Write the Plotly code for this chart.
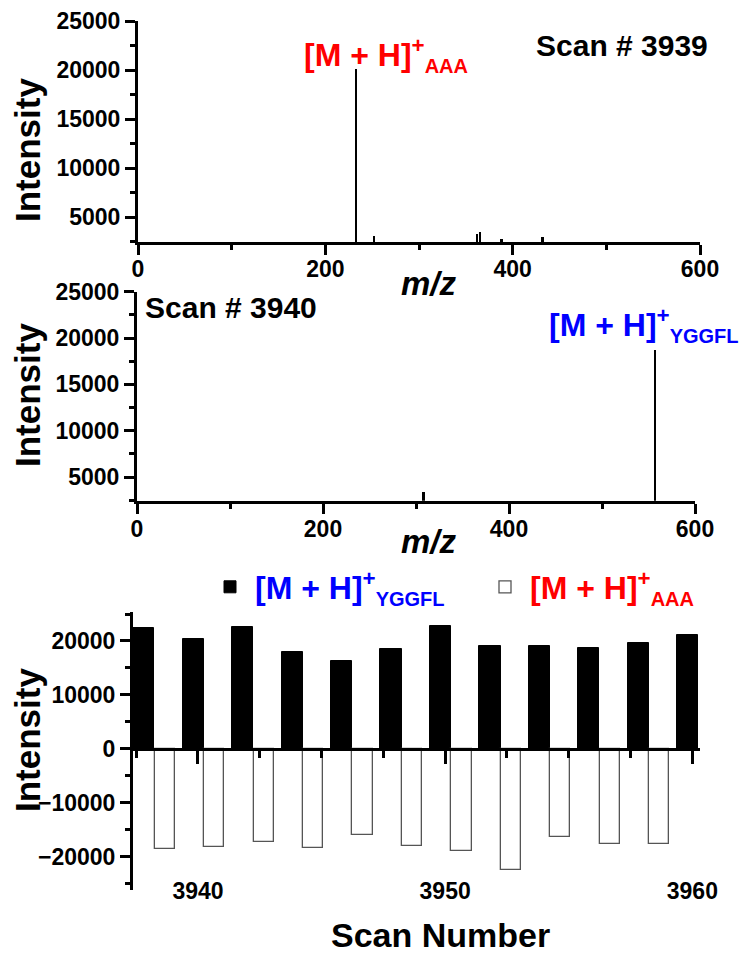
import plotly.graph_objects as go

# The page body keeps its default 8 px margin, so the figure is drawn 8 px right and down;
# positions below are given in page pixels and shifted back by that offset.
W, H, BODY = 749, 961, 8

# ---------------- data ----------------
# scan 3939 mass spectrum (m/z, intensity)
mz_3939 = [233, 252, 362, 365, 388, 432]
int_3939 = [20100, 3050, 3250, 3450, 2750, 2950]
# scan 3940 mass spectrum
mz_3940 = [308, 557]
int_3940 = [3450, 18700]

# extracted ion intensities vs scan number
scan_yggfl = [3938, 3940, 3942, 3944, 3946, 3948, 3950, 3952, 3954, 3956, 3958, 3960]
int_yggfl = [22360, 20310, 22550, 17890, 16270, 18450, 22800, 19130, 19070, 18630, 19570, 21180]
scan_aaa = [3939, 3941, 3943, 3945, 3947, 3949, 3951, 3953, 3955, 3957, 3959]
int_aaa = [-18510, -18140, -17340, -18330, -16040, -18080, -19010, -22480, -16350, -17590, -17710]

SUB = "<sub><span style='font-size:20px'>{}</span></sub>"
label_yggfl = "[M + H]<sup>+</sup>" + SUB.format("YGGFL")
label_aaa = "[M + H]<sup>+</sup>" + SUB.format("AAA")
scan_a_text = "Scan # 3939"
scan_b_text = "Scan # 3940"

# ---------------- helpers (page pixels -> paper fractions) ----------------
def fx(p):
    return (p - BODY) / W

def fy(p):
    return 1 - (p - BODY) / H

SANS = "Liberation Sans, Arial, sans-serif"
BLUE = "#0000ff"
RED = "#ff0000"

tickfont = dict(family=SANS, size=23, color="black", weight="bold")

def axis_common(**kw):
    d = dict(showline=True, linewidth=3, linecolor="black", ticks="outside",
             ticklen=10, tickwidth=3, tickcolor="black", showgrid=False,
             zeroline=False, tickfont=tickfont, fixedrange=True, automargin=False,
             tickformat="d")
    d.update(kw)
    return d

fig = go.Figure()

fig.add_trace(go.Bar(x=mz_3939, y=int_3939, width=2.6, marker=dict(color="black", line=dict(width=0)),
                     xaxis="x", yaxis="y", showlegend=False))
fig.add_trace(go.Bar(x=mz_3940, y=int_3940, width=2.6, marker=dict(color="black", line=dict(width=0)),
                     xaxis="x2", yaxis="y2", showlegend=False))

fig.add_trace(go.Bar(x=scan_yggfl, y=int_yggfl, width=0.86, offset=-0.62,
                     marker=dict(color="black", line=dict(color="black", width=1)),
                     name=f"<span style='color:{BLUE}'>{label_yggfl}</span>",
                     xaxis="x3", yaxis="y3"))
fig.add_trace(go.Bar(x=scan_aaa, y=int_aaa, width=0.82, offset=-0.75,
                     marker=dict(color="white", line=dict(color="#555555", width=1.3)),
                     name=f"<span style='color:{RED}'>{label_aaa}</span>",
                     xaxis="x4", yaxis="y3"))

scan_range = [3937.29, 3960.31]

fig.update_layout(
    template="none",
    width=W, height=H, autosize=False,
    margin=dict(l=0, r=0, t=0, b=0, pad=0),
    paper_bgcolor="white", plot_bgcolor="rgba(0,0,0,0)",
    barmode="overlay", bargap=0,
    font=dict(family=SANS, color="black"),
    xaxis=axis_common(domain=[fx(138), fx(700)], range=[0, 600], anchor="y",
                      tick0=0, dtick=200, ticklabelstandoff=-6,
                      minor=dict(ticks="outside", ticklen=5, tickwidth=3, tickcolor="black", dtick=100)),
    yaxis=axis_common(domain=[fy(242), fy(21)], range=[2450, 25000], anchor="x",
                      tick0=0, dtick=5000,
                      minor=dict(ticks="outside", ticklen=5, tickwidth=3, tickcolor="black", dtick=2500)),
    xaxis2=axis_common(domain=[fx(137), fx(695)], range=[0, 600], anchor="y2",
                       tick0=0, dtick=200, ticklabelstandoff=-4,
                       minor=dict(ticks="outside", ticklen=5, tickwidth=3, tickcolor="black", dtick=100)),
    yaxis2=axis_common(domain=[fy(500.7), fy(291.7)], range=[2450, 25000], anchor="x2",
                       tick0=0, dtick=5000,
                       minor=dict(ticks="outside", ticklen=5, tickwidth=3, tickcolor="black", dtick=2500)),
    # label-only scan axis at the bottom
    xaxis3=dict(domain=[fx(131), fx(700)], range=scan_range, anchor="free", position=fy(875),
                showline=False, ticks="", showgrid=False, zeroline=False, automargin=False,
                tick0=3940, dtick=10, tickfont=tickfont, fixedrange=True, tickformat="d"),
    # scan axis line drawn along intensity = 0
    xaxis4=dict(overlaying="x3", range=scan_range, anchor="free", position=fy(749),
                showline=True, linewidth=3, linecolor="black", ticks="outside", ticklen=13,
                tickwidth=3, tickcolor="black", tick0=3940, dtick=10, showticklabels=False,
                showgrid=False, zeroline=False, fixedrange=True, automargin=False,
                minor=dict(ticks="outside", ticklen=7, tickwidth=3, tickcolor="black", dtick=2.5)),
    yaxis3=axis_common(domain=[fy(890), fy(612)], range=[-26150, 25370], anchor="free",
                       position=fx(131), tick0=0, dtick=10000,
                       minor=dict(ticks="outside", ticklen=5, tickwidth=3, tickcolor="black", dtick=5000)),
    legend=dict(orientation="h", x=fx(205), y=fy(587), xanchor="left", yanchor="middle",
                font=dict(family=SANS, size=32, weight="bold"),
                bgcolor="rgba(0,0,0,0)", itemwidth=40, traceorder="normal",
                entrywidth=220, entrywidthmode="pixels"),
)

annotations = []
for ycen in (150, 395, 740):
    annotations.append(dict(text="Intensity", x=fx(27), y=fy(ycen), xref="paper", yref="paper",
                            textangle=-90, showarrow=False, xanchor="center", yanchor="middle",
                            font=dict(family=SANS, size=35, weight="bold", color="black")))
for ycen in (283, 541):
    annotations.append(dict(text="<i>m/z</i>", x=fx(429), y=fy(ycen), xref="paper", yref="paper",
                            showarrow=False, xanchor="center", yanchor="middle",
                            font=dict(family=SANS, size=33, weight="bold", color="black")))
annotations.append(dict(text=scan_a_text, x=fx(534), y=fy(45), xref="paper", yref="paper",
                        showarrow=False, xanchor="left", yanchor="middle",
                        font=dict(family=SANS, size=30, weight="bold", color="black")))
annotations.append(dict(text=scan_b_text, x=fx(143), y=fy(308), xref="paper", yref="paper",
                        showarrow=False, xanchor="left", yanchor="middle",
                        font=dict(family=SANS, size=30, weight="bold", color="black")))
annotations.append(dict(text=label_aaa, x=fx(302), y=fy(55), xref="paper", yref="paper",
                        showarrow=False, xanchor="left", yanchor="middle",
                        font=dict(family=SANS, size=32, weight="bold", color=RED)))
annotations.append(dict(text=label_yggfl, x=fx(547), y=fy(325), xref="paper", yref="paper",
                        showarrow=False, xanchor="left", yanchor="middle",
                        font=dict(family=SANS, size=32, weight="bold", color=BLUE)))
annotations.append(dict(text="Scan Number", x=fx(440), y=fy(935), xref="paper", yref="paper",
                        showarrow=False, xanchor="center", yanchor="middle",
                        font=dict(family=SANS, size=34, weight="bold", color="black")))
fig.update_layout(annotations=annotations)

fig.write_html("out.html")
